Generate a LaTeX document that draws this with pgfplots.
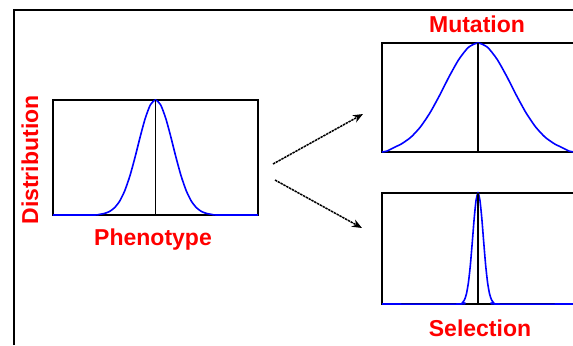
\documentclass[border=0pt]{standalone}
\usepackage{fontspec}
\setmainfont{Liberation Sans}
\usepackage{pgfplots}
\pgfplotsset{compat=1.18}
\usetikzlibrary{arrows.meta}
\definecolor{lblred}{RGB}{255,0,0}
\definecolor{crvblue}{RGB}{0,0,255}
\pgfplotsset{
  distbox/.style={
    scale only axis,
    xmin=-1, xmax=1, ymin=0, ymax=1,
    ticks=none,
    clip=false,
    axis line style={line width=0.9pt, black},
  },
  curve/.style={crvblue, line width=0.8pt, no marks, smooth, tension=0.4},
  centerline/.style={black, line width=0.85pt, no marks},
}
\newcommand{\lbl}{\fontsize{11.5}{13}\selectfont\bfseries\color{lblred}}
\begin{document}
\begin{tikzpicture}
\useasboundingbox (0,0) rectangle (286.5pt,172.5pt);
% frame
\draw[line width=0.8pt, black] (7pt,0pt) -- (7pt,167.5pt) -- (290pt,167.5pt);

% left distribution
\begin{axis}[distbox, at={(26.5pt,65pt)}, anchor=south west, width=102.5pt, height=57.5pt]
\addplot[curve] coordinates {
(-1,0) (-0.6,0) (-0.55,0.005) (-0.5,0.013) (-0.45,0.030) (-0.4,0.063) (-0.35,0.120)
(-0.3,0.211) (-0.25,0.339) (-0.2,0.501) (-0.15,0.678) (-0.1,0.841) (-0.05,0.958) (0,1)
(0.05,0.958) (0.1,0.841) (0.15,0.678) (0.2,0.501) (0.25,0.339) (0.3,0.211) (0.35,0.120)
(0.4,0.063) (0.45,0.030) (0.5,0.013) (0.55,0.005) (0.6,0) (1,0)};
\addplot[centerline] coordinates {(0,0) (0,1)};
\end{axis}

% mutation
\begin{axis}[distbox, at={(191pt,96.5pt)}, anchor=south west, width=96pt, height=54.5pt]
\addplot[curve] coordinates {
(-1,0) (-0.95,0.008) (-0.9,0.030) (-0.85,0.052) (-0.8,0.073) (-0.7,0.135) (-0.6,0.230) (-0.5,0.360)
(-0.4,0.520) (-0.3,0.693) (-0.2,0.849) (-0.1,0.960) (0,1)
(0.1,0.960) (0.2,0.849) (0.3,0.693) (0.4,0.520) (0.5,0.360) (0.6,0.230) (0.7,0.135)
(0.8,0.073) (0.85,0.052) (0.9,0.030) (0.95,0.008) (1,0)};
\addplot[centerline] coordinates {(0,0) (0,1)};
\end{axis}

% selection
\begin{axis}[distbox, at={(191pt,20.5pt)}, anchor=south west, width=96pt, height=55.5pt]
\addplot[curve] coordinates {
(-1,0) (-0.18,0) (-0.16,0.015) (-0.14,0.039) (-0.12,0.093) (-0.10,0.192) (-0.08,0.347)
(-0.06,0.552) (-0.04,0.768) (-0.02,0.936) (0,1)
(0.02,0.936) (0.04,0.768) (0.06,0.552) (0.08,0.347) (0.10,0.192) (0.12,0.093)
(0.14,0.039) (0.16,0.015) (0.18,0) (1,0)};
\addplot[centerline] coordinates {(0,0) (0,1)};
\end{axis}

% labels
\node[rotate=90, inner sep=0pt] at (15pt,92.5pt) {\lbl Distribution};
\node[inner sep=0pt] at (76.5pt,52.5pt) {\lbl Phenotype};
\node[inner sep=0pt] at (238.5pt,160.5pt) {\lbl Mutation};
\node[inner sep=0pt] at (240pt,8.5pt) {\lbl Selection};

% arrows
\draw[line width=0.75pt, dash pattern=on 1.2pt off 0.4pt, -{Stealth[length=5pt,width=4pt]}] (136.5pt,90.5pt) -- (181.5pt,115.5pt);
\draw[line width=0.75pt, dash pattern=on 1.2pt off 0.4pt, -{Stealth[length=5pt,width=4pt]}] (137.5pt,82.5pt) -- (181pt,58.5pt);
\end{tikzpicture}
\end{document}
